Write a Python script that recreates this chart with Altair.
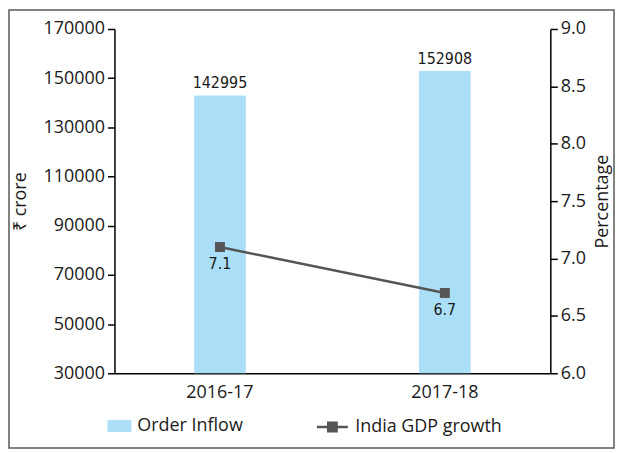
import altair as alt
import pandas as pd

years = ["2016-17", "2017-18"]
order_inflow = [142995, 152908]
gdp_growth = [7.1, 6.7]
bar_series = ["Order Inflow", "Order Inflow"]
line_series = ["India GDP growth", "India GDP growth"]
left_ticks = [30000, 50000, 70000, 90000, 110000, 130000, 150000, 170000]
right_ticks = [6.0, 6.5, 7.0, 7.5, 8.0, 8.5, 9.0]

df = pd.DataFrame({
    "year": years,
    "inflow": order_inflow,
    "gdp": gdp_growth,
    "bar_s": bar_series,
    "line_s": line_series,
})

W, H = 438, 346
FONT = "Open Sans"
NARROW = "Liberation Sans Narrow, DejaVu Sans Condensed"
TXT = "#1a1a1a"
BAR = "#abdff8"
LINE = "#555555"
FS = 18

x_enc = alt.X(
    "year:N", sort=years, title=None,
    scale=alt.Scale(paddingInner=0.77, paddingOuter=0.354),
    axis=alt.Axis(labelAngle=0, ticks=False, domainColor="#000", domainWidth=1.5,
                  labelPadding=10, labelFontSize=FS, labelColor=TXT, labelFont=FONT),
)

y_left = alt.Y(
    "inflow:Q",
    scale=alt.Scale(domain=[left_ticks[0], left_ticks[-1]], nice=False, zero=False),
    axis=alt.Axis(values=left_ticks, format="d", title="₹ crore", grid=False,
                  domainColor="#000", domainWidth=1.5, tickColor="#000", tickWidth=1.5,
                  tickSize=7, labelPadding=3, labelFontSize=FS, labelColor=TXT, labelFont=FONT,
                  titleFont=FONT, titleFontSize=FS, titleFontWeight="normal", titleColor=TXT,
                  titlePadding=14),
)

y_right = alt.Y(
    "gdp:Q",
    scale=alt.Scale(domain=[right_ticks[0], right_ticks[-1]], nice=False, zero=False),
    axis=alt.Axis(orient="right", values=right_ticks, format=".1f", title="Percentage", grid=False,
                  domainColor="#000", domainWidth=1.5, tickColor="#000", tickWidth=1.5,
                  tickSize=7, labelPadding=3, labelFontSize=FS, labelColor=TXT, labelFont=FONT,
                  titleFont=FONT, titleFontSize=FS, titleFontWeight="normal", titleColor=TXT,
                  titleAngle=270, titlePadding=26),
)

base = alt.Chart(df)

bars = base.mark_bar(clip=True).encode(
    x=x_enc,
    y=y_left,
    color=alt.Color(
        "bar_s:N", scale=alt.Scale(range=[BAR]),
        legend=alt.Legend(title=None, orient="none", legendX=-7, legendY=387, padding=0,
                          symbolType="M-1,-0.5H1V0.5H-1Z", symbolSize=576,
                          symbolStrokeWidth=0, labelFontSize=FS, labelFont=FONT,
                          labelColor=TXT, labelOffset=6),
    ),
)

bar_text = base.mark_text(font=NARROW, fontSize=16, baseline="bottom", dy=-4, color=TXT).encode(
    x=alt.X("year:N", sort=years),
    y=alt.Y("inflow:Q"),
    text=alt.Text("inflow:Q", format="d"),
)

frame = alt.Chart(pd.DataFrame({"k": [0]})).mark_rect(
    fillOpacity=0, stroke="#5a5a5a", strokeWidth=1.5
).encode(
    x=alt.value(-106), x2=alt.value(W + 64),
    y=alt.value(-19), y2=alt.value(H + 75),
)

line = base.mark_line(strokeWidth=2.5).encode(
    x=alt.X("year:N", sort=years),
    y=y_right,
    stroke=alt.Stroke(
        "line_s:N", scale=alt.Scale(range=[LINE]),
        legend=alt.Legend(title=None, orient="none", legendX=202, legendY=383, padding=0,
                          symbolType="M-1,0H1M-0.27,-0.27H0.27V0.27H-0.27Z", symbolSize=961,
                          symbolFillColor=LINE, symbolStrokeColor=LINE, symbolStrokeWidth=2.5,
                          labelFontSize=FS, labelFont=FONT, labelColor=TXT, labelOffset=6),
    ),
)

points = base.mark_point(shape="square", size=100, filled=True, opacity=1, color=LINE).encode(
    x=alt.X("year:N", sort=years),
    y=alt.Y("gdp:Q"),
)

line_text = base.mark_text(font=NARROW, fontSize=16, baseline="top", dy=9, color=TXT).encode(
    x=alt.X("year:N", sort=years),
    y=alt.Y("gdp:Q"),
    text=alt.Text("gdp:Q", format=".1f"),
)

left = alt.layer(frame, bars, bar_text)
right = alt.layer(line, points, line_text)

chart = alt.layer(left, right).resolve_scale(y="independent").properties(
    width=W, height=H,
    autosize="none",
    padding={"left": 107, "top": 20, "right": 65, "bottom": 76},
).configure_view(strokeWidth=0)

chart.save("out.html", embed_options={"renderer": "svg", "actions": False})
